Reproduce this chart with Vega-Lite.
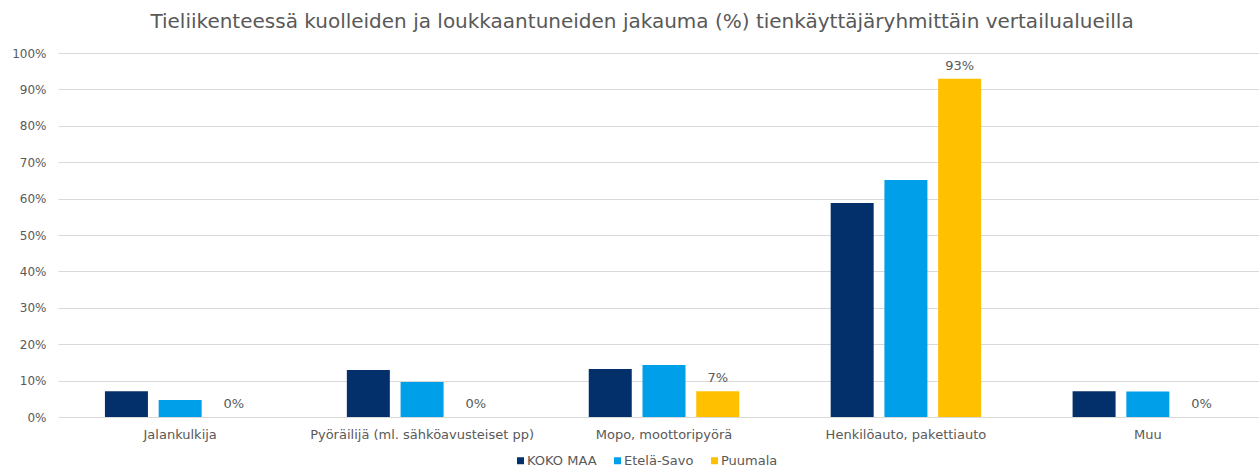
{
  "$schema": "https://vega.github.io/schema/vega-lite/v6.json",
  "width": 1196,
  "height": 364,
  "autosize": {"type": "none"},
  "padding": {"left": 58, "top": 53, "right": 5, "bottom": 51},
  "background": "white",
  "config": {
    "font": "DejaVu Sans",
    "view": {"stroke": null}
  },
  "title": {
    "text": "Tieliikenteessä kuolleiden ja loukkaantuneiden jakauma (%) tienkäyttäjäryhmittäin vertailualueilla",
    "fontSize": 20,
    "fontWeight": "normal",
    "color": "#595959",
    "offset": 15,
    "dx": -14,
    "font": "DejaVu Sans"
  },
  "data": {
    "values": [
      {"category": "Jalankulkija", "series": "KOKO MAA", "value": 0.071},
      {"category": "Jalankulkija", "series": "Etelä-Savo", "value": 0.047},
      {"category": "Jalankulkija", "series": "Puumala", "value": 0.0},
      {"category": "Pyöräilijä (ml. sähköavusteiset pp)", "series": "KOKO MAA", "value": 0.129},
      {"category": "Pyöräilijä (ml. sähköavusteiset pp)", "series": "Etelä-Savo", "value": 0.096},
      {"category": "Pyöräilijä (ml. sähköavusteiset pp)", "series": "Puumala", "value": 0.0},
      {"category": "Mopo, moottoripyörä", "series": "KOKO MAA", "value": 0.132},
      {"category": "Mopo, moottoripyörä", "series": "Etelä-Savo", "value": 0.143},
      {"category": "Mopo, moottoripyörä", "series": "Puumala", "value": 0.071},
      {"category": "Henkilöauto, pakettiauto", "series": "KOKO MAA", "value": 0.588},
      {"category": "Henkilöauto, pakettiauto", "series": "Etelä-Savo", "value": 0.651},
      {"category": "Henkilöauto, pakettiauto", "series": "Puumala", "value": 0.929},
      {"category": "Muu", "series": "KOKO MAA", "value": 0.071},
      {"category": "Muu", "series": "Etelä-Savo", "value": 0.07},
      {"category": "Muu", "series": "Puumala", "value": 0.0}
    ]
  },
  "encoding": {
    "x": {
      "field": "category",
      "type": "nominal",
      "sort": null,
      "scale": {"paddingInner": 0.378, "paddingOuter": 0.194, "range": [0, 1212]},
      "axis": {
        "title": null,
        "labelAngle": 0,
        "labelFontSize": 13,
        "labelLimit": 0,
        "labelColor": "#595959",
        "labelPadding": 11,
        "ticks": false,
        "domain": false
      }
    },
    "xOffset": {
      "field": "series",
      "type": "nominal",
      "sort": ["KOKO MAA", "Etelä-Savo", "Puumala"],
      "scale": {"paddingInner": 0.2, "paddingOuter": 0}
    },
    "y": {
      "field": "value",
      "type": "quantitative",
      "scale": {"domain": [0, 1], "nice": false},
      "axis": {
        "title": null,
        "values": [0, 0.1, 0.2, 0.3, 0.4, 0.5, 0.6, 0.7, 0.8, 0.9, 1.0],
        "format": ".0%",
        "labelFontSize": 12,
        "labelColor": "#595959",
        "labelPadding": 12,
        "ticks": false,
        "domain": false,
        "gridColor": "#D9D9D9",
        "gridWidth": 1
      }
    }
  },
  "layer": [
    {
      "mark": {"type": "bar"},
      "encoding": {
        "color": {
          "field": "series",
          "type": "nominal",
          "sort": ["KOKO MAA", "Etelä-Savo", "Puumala"],
          "scale": {
            "domain": ["KOKO MAA", "Etelä-Savo", "Puumala"],
            "range": ["#03306A", "#009FEA", "#FFC000"]
          },
          "legend": {
            "title": null,
            "orient": "none",
            "direction": "horizontal",
            "legendX": 456,
            "legendY": 401,
            "symbolType": "square",
            "symbolSize": 49,
            "symbolStrokeWidth": 0,
            "labelFontSize": 13,
            "labelColor": "#595959",
            "labelOffset": 0,
            "columnPadding": 14
          }
        }
      }
    },
    {
      "transform": [{"filter": "datum.series === 'Puumala'"}],
      "mark": {
        "type": "text",
        "dy": -13,
        "fontSize": 13,
        "color": "#595959"
      },
      "encoding": {
        "text": {"field": "value", "type": "quantitative", "format": ".0%"}
      }
    }
  ]
}
